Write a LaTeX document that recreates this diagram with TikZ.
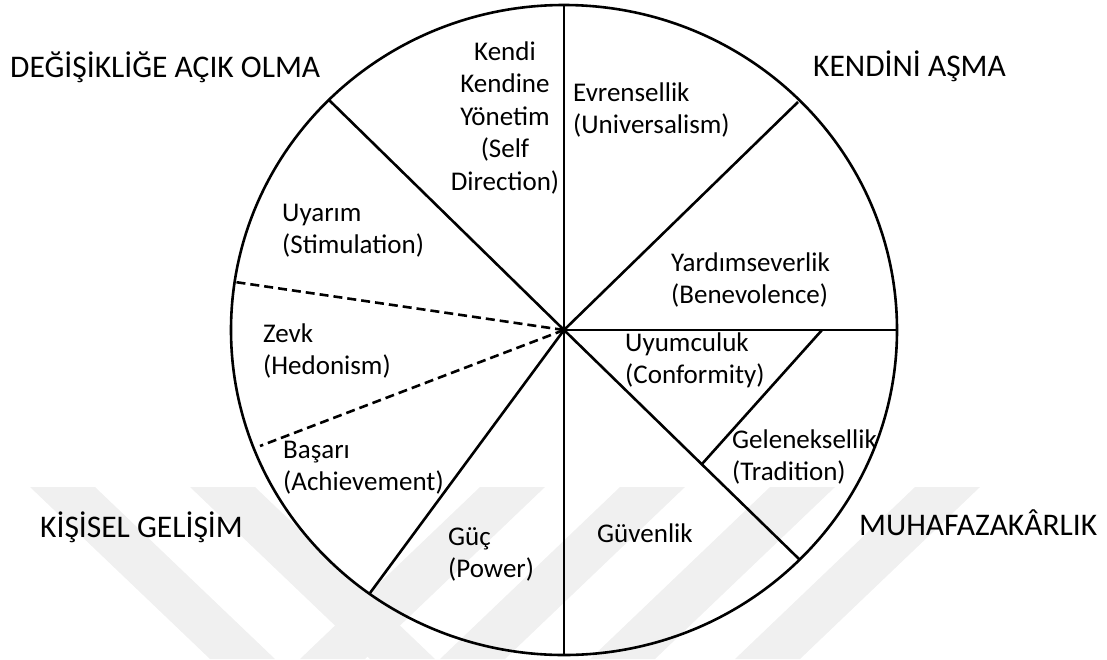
\documentclass[tikz,border=0pt]{standalone}
\usepackage{fontspec}
\setmainfont{Carlito}
\begin{document}
\begin{tikzpicture}[x=1pt,y=-1pt,
  seg/.style={line width=2.6pt},
  dashseg/.style={line width=2.6pt, dash pattern=on 9pt off 5pt},
  value/.style={font=\fontsize{27}{31.5}\selectfont, align=left, anchor=base west, inner sep=0pt},
  group/.style={font=\fontsize{31.5}{38}\selectfont, anchor=base west, inner sep=0pt},
  wmband/.style={fill=black!6}]
\useasboundingbox (0,0) rectangle (1107,659);

% faint background stripes
\foreach \x in {30,190}
  \fill[wmband] (\x,487) -- (\x+65,487) -- (\x+245,659) -- (\x+180,659) -- cycle;
\foreach \x in {480,620,770,915}
  \fill[wmband] (\x,487) -- (\x+65,487) -- (\x-115,659) -- (\x-180,659) -- cycle;

% wheel
\coordinate (c) at (564,330);
\coordinate (pN) at (564,5);
\coordinate (pNE) at (798,102);
\coordinate (pE) at (897,330);
\coordinate (pSE) at (799,559);
\coordinate (pS) at (564,655);
\coordinate (pSW) at (370,593);
\coordinate (pW1) at (260,446);
\coordinate (pW2) at (235,282);
\coordinate (pNW) at (329,100);
\coordinate (q1) at (822,330);
\coordinate (q2) at (702,464);

\draw[seg] (c) ellipse [x radius=333, y radius=325];
\foreach \p in {pN,pNE,pE,pSE,pS,pSW,pNW}
  \draw[seg] (c) -- (\p);
\draw[dashseg] (c) -- (pW1);
\draw[dashseg] (c) -- (pW2);
\draw[seg] (q1) -- (q2);

% value names (placed by the baseline of their last line)
\node[value, align=center, anchor=base, font=\fontsize{27}{32.5}\selectfont] (selfdir) at (505,190)
  {Kendi\\Kendine\\Yönetim\\(Self\\Direction)};
\node[value] (univ) at (573,133) {Evrensellik\\(Universalism)};
\node[value] (stim) at (282,253) {Uyarım\\(Stimulation)};
\node[value] (hedo) at (263,374) {Zevk\\(Hedonism)};
\node[value] (achi) at (283,490) {Başarı\\(Achievement)};
\node[value] (powr) at (448,577) {Güç\\(Power)};
\node[value] (secu) at (597,542) {Güvenlik};
\node[value] (trad) at (732,480) {Geleneksellik\\(Tradition)};
\node[value] (conf) at (625,383) {Uyumculuk\\(Conformity)};
\node[value] (bene) at (671,303) {Yardımseverlik\\(Benevolence)};

% higher-order groups
\node[group] (openness) at (10,77) {DEĞİŞİKLİĞE AÇIK OLMA};
\node[group] (selftrans) at (813,76) {KENDİNİ AŞMA};
\node[group] (selfenh) at (40,537) {KİŞİSEL GELİŞİM};
\node[group] (conserv) at (859,535) {MUHAFAZAKÂRLIK};
\end{tikzpicture}
\end{document}
